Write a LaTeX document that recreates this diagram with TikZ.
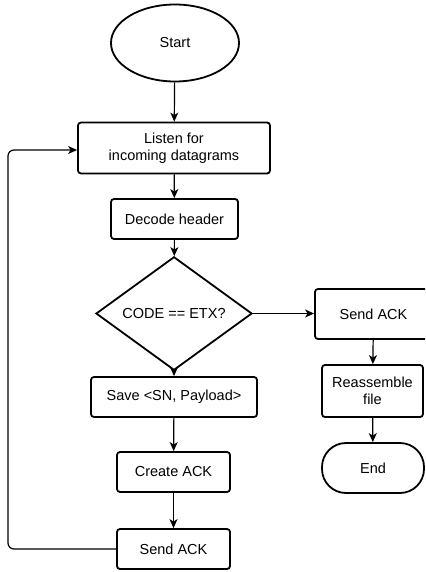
\documentclass[tikz,border=0pt]{standalone}
\usepackage{fontspec}
\setmainfont{Liberation Sans}
\usetikzlibrary{shapes.geometric,arrows.meta}
\begin{document}
\begin{tikzpicture}[x=1pt,y=-1pt,
  box/.style={draw,line width=1.8pt,rounded corners=3pt,align=center,font=\fontsize{14.5}{17}\selectfont,inner sep=0pt},
  conn/.style={line width=1.2pt,-{Stealth[length=9pt,width=8pt,inset=2.5pt]}},
  every node/.style={font=\fontsize{14.5}{17}\selectfont}]
\useasboundingbox (0,0) rectangle (425,572);
\clip (0,0) rectangle (425,572);
\node[draw,ellipse,line width=1.8pt,minimum width=128pt,minimum height=77pt,inner sep=0pt] (start) at (175,43) {Start};
\node[box,minimum width=192pt,minimum height=51pt] (listen) at (174,148) {Listen for\\incoming datagrams};
\node[box,minimum width=127pt,minimum height=40pt] (decode) at (174.5,219) {Decode header};
\node[draw,diamond,line width=1.8pt,minimum width=156pt,minimum height=75pt,inner sep=0pt] (code) at (174,313.5) {CODE == ETX?};
\node[box,minimum width=166pt,minimum height=40pt] (save) at (174,397) {Save <SN, Payload>};
\node[box,minimum width=113pt,minimum height=40pt] (create) at (173.5,472) {Create ACK};
\node[box,minimum width=113pt,minimum height=40pt] (sendl) at (173.5,549) {Send ACK};
\node[box,minimum width=117pt,minimum height=50pt] (sendr) at (373.5,314) {Send ACK};
\node[box,minimum width=101pt,minimum height=52pt] (reasm) at (372.5,391) {Reassemble\\file};
\node[draw,line width=1.8pt,rounded corners=24pt,minimum width=102pt,minimum height=50pt,inner sep=0pt] (end) at (373,468) {End};
\coordinate (lb) at (8,549);
\coordinate (lt) at (8,150);
\draw[conn] (start) -- (listen);
\draw[conn] (listen) -- (decode);
\draw[conn] (decode) -- (code);
\draw[conn] (code) -- (save);
\draw[conn] (save) -- (create);
\draw[conn] (create) -- (sendl);
\draw[conn] (code.east) -- (sendr.west |- code.east);
\draw[conn] (sendr) -- (reasm);
\draw[conn] (reasm) -- (end);
\draw[conn,rounded corners=6pt] (sendl.west) -- (lb) -- (lt) -- (listen.west |- lt);
\end{tikzpicture}
\end{document}
